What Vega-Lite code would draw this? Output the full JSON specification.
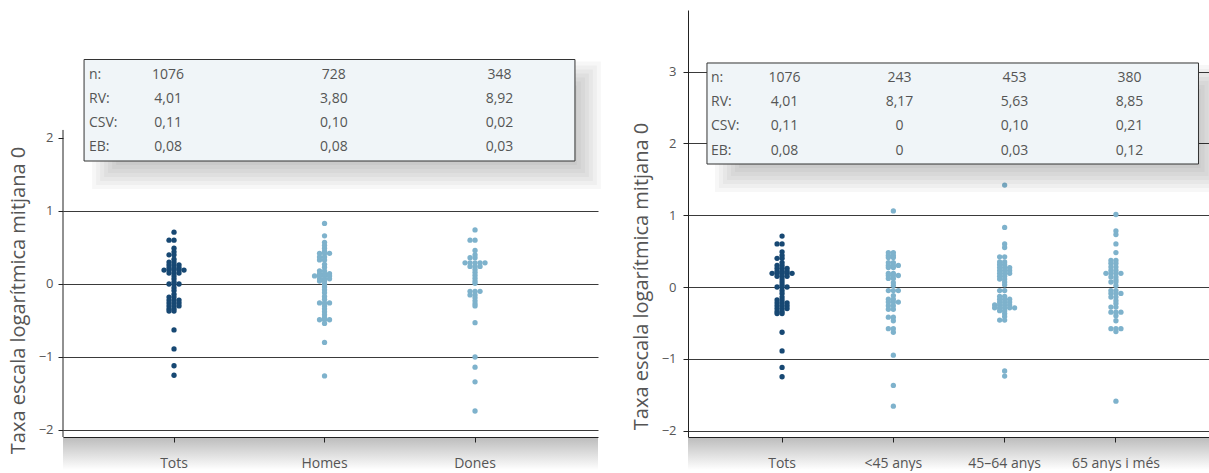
{
  "$schema": "https://vega.github.io/schema/vega-lite/v6.json",
  "background": "white",
  "padding": {"left": 8, "top": 10, "right": 0, "bottom": 0},
  "config": {
    "view": {"stroke": null},
    "font": "Open Sans",
    "axis": {"labelFont": "Open Sans", "titleFont": "Open Sans", "labelColor": "#555555", "titleColor": "#555555", "domainColor": "#222222", "tickColor": "#222222", "gridColor": "#3a3a3a", "titleFontWeight": "normal"}
  },
  "datasets": {
    "pts": [
      {"cat":"Tots","v":0.71},{"cat":"Tots","v":0.60},{"cat":"Tots","v":0.60},{"cat":"Tots","v":0.49},{"cat":"Tots","v":0.44},{"cat":"Tots","v":0.40},{"cat":"Tots","v":0.40},{"cat":"Tots","v":0.34},{"cat":"Tots","v":0.30},{"cat":"Tots","v":0.30},{"cat":"Tots","v":0.26},{"cat":"Tots","v":0.26},{"cat":"Tots","v":0.26},{"cat":"Tots","v":0.22},{"cat":"Tots","v":0.22},{"cat":"Tots","v":0.22},{"cat":"Tots","v":0.19},{"cat":"Tots","v":0.19},{"cat":"Tots","v":0.19},{"cat":"Tots","v":0.19},{"cat":"Tots","v":0.19},{"cat":"Tots","v":0.15},{"cat":"Tots","v":0.15},{"cat":"Tots","v":0.15},{"cat":"Tots","v":0.11},{"cat":"Tots","v":0.07},{"cat":"Tots","v":0.03},{"cat":"Tots","v":0.0},{"cat":"Tots","v":0.0},{"cat":"Tots","v":0.0},{"cat":"Tots","v":-0.05},{"cat":"Tots","v":-0.09},{"cat":"Tots","v":-0.14},{"cat":"Tots","v":-0.18},{"cat":"Tots","v":-0.18},{"cat":"Tots","v":-0.22},{"cat":"Tots","v":-0.22},{"cat":"Tots","v":-0.22},{"cat":"Tots","v":-0.26},{"cat":"Tots","v":-0.26},{"cat":"Tots","v":-0.26},{"cat":"Tots","v":-0.30},{"cat":"Tots","v":-0.30},{"cat":"Tots","v":-0.30},{"cat":"Tots","v":-0.34},{"cat":"Tots","v":-0.34},{"cat":"Tots","v":-0.37},{"cat":"Tots","v":-0.37},{"cat":"Tots","v":-0.63},{"cat":"Tots","v":-0.89},{"cat":"Tots","v":-1.12},{"cat":"Tots","v":-1.25},
      {"cat":"Homes","v":0.83},{"cat":"Homes","v":0.66},{"cat":"Homes","v":0.57},{"cat":"Homes","v":0.53},{"cat":"Homes","v":0.49},{"cat":"Homes","v":0.45},{"cat":"Homes","v":0.42},{"cat":"Homes","v":0.42},{"cat":"Homes","v":0.42},{"cat":"Homes","v":0.37},{"cat":"Homes","v":0.37},{"cat":"Homes","v":0.33},{"cat":"Homes","v":0.33},{"cat":"Homes","v":0.27},{"cat":"Homes","v":0.23},{"cat":"Homes","v":0.18},{"cat":"Homes","v":0.18},{"cat":"Homes","v":0.14},{"cat":"Homes","v":0.14},{"cat":"Homes","v":0.14},{"cat":"Homes","v":0.11},{"cat":"Homes","v":0.11},{"cat":"Homes","v":0.11},{"cat":"Homes","v":0.11},{"cat":"Homes","v":0.07},{"cat":"Homes","v":0.07},{"cat":"Homes","v":0.07},{"cat":"Homes","v":0.04},{"cat":"Homes","v":0.04},{"cat":"Homes","v":0.0},{"cat":"Homes","v":-0.04},{"cat":"Homes","v":-0.08},{"cat":"Homes","v":-0.12},{"cat":"Homes","v":-0.17},{"cat":"Homes","v":-0.21},{"cat":"Homes","v":-0.26},{"cat":"Homes","v":-0.26},{"cat":"Homes","v":-0.26},{"cat":"Homes","v":-0.30},{"cat":"Homes","v":-0.34},{"cat":"Homes","v":-0.38},{"cat":"Homes","v":-0.42},{"cat":"Homes","v":-0.46},{"cat":"Homes","v":-0.49},{"cat":"Homes","v":-0.49},{"cat":"Homes","v":-0.49},{"cat":"Homes","v":-0.54},{"cat":"Homes","v":-0.80},{"cat":"Homes","v":-1.26},
      {"cat":"Dones","v":0.74},{"cat":"Dones","v":0.60},{"cat":"Dones","v":0.60},{"cat":"Dones","v":0.46},{"cat":"Dones","v":0.40},{"cat":"Dones","v":0.36},{"cat":"Dones","v":0.36},{"cat":"Dones","v":0.29},{"cat":"Dones","v":0.29},{"cat":"Dones","v":0.29},{"cat":"Dones","v":0.29},{"cat":"Dones","v":0.29},{"cat":"Dones","v":0.24},{"cat":"Dones","v":0.24},{"cat":"Dones","v":0.24},{"cat":"Dones","v":0.20},{"cat":"Dones","v":0.16},{"cat":"Dones","v":0.12},{"cat":"Dones","v":0.08},{"cat":"Dones","v":0.04},{"cat":"Dones","v":0.01},{"cat":"Dones","v":-0.10},{"cat":"Dones","v":-0.10},{"cat":"Dones","v":-0.10},{"cat":"Dones","v":-0.15},{"cat":"Dones","v":-0.15},{"cat":"Dones","v":-0.19},{"cat":"Dones","v":-0.23},{"cat":"Dones","v":-0.27},{"cat":"Dones","v":-0.30},{"cat":"Dones","v":-0.53},{"cat":"Dones","v":-1.00},{"cat":"Dones","v":-1.14},{"cat":"Dones","v":-1.34},{"cat":"Dones","v":-1.74},
      {"cat":"<45 anys","v":1.06},{"cat":"<45 anys","v":0.48},{"cat":"<45 anys","v":0.48},{"cat":"<45 anys","v":0.44},{"cat":"<45 anys","v":0.44},{"cat":"<45 anys","v":0.41},{"cat":"<45 anys","v":0.41},{"cat":"<45 anys","v":0.34},{"cat":"<45 anys","v":0.34},{"cat":"<45 anys","v":0.30},{"cat":"<45 anys","v":0.30},{"cat":"<45 anys","v":0.30},{"cat":"<45 anys","v":0.27},{"cat":"<45 anys","v":0.27},{"cat":"<45 anys","v":0.19},{"cat":"<45 anys","v":0.19},{"cat":"<45 anys","v":0.16},{"cat":"<45 anys","v":0.16},{"cat":"<45 anys","v":0.16},{"cat":"<45 anys","v":0.12},{"cat":"<45 anys","v":0.12},{"cat":"<45 anys","v":0.06},{"cat":"<45 anys","v":0.02},{"cat":"<45 anys","v":-0.05},{"cat":"<45 anys","v":-0.05},{"cat":"<45 anys","v":-0.05},{"cat":"<45 anys","v":-0.12},{"cat":"<45 anys","v":-0.17},{"cat":"<45 anys","v":-0.17},{"cat":"<45 anys","v":-0.21},{"cat":"<45 anys","v":-0.21},{"cat":"<45 anys","v":-0.21},{"cat":"<45 anys","v":-0.26},{"cat":"<45 anys","v":-0.26},{"cat":"<45 anys","v":-0.31},{"cat":"<45 anys","v":-0.31},{"cat":"<45 anys","v":-0.42},{"cat":"<45 anys","v":-0.42},{"cat":"<45 anys","v":-0.47},{"cat":"<45 anys","v":-0.58},{"cat":"<45 anys","v":-0.58},{"cat":"<45 anys","v":-0.63},{"cat":"<45 anys","v":-0.95},{"cat":"<45 anys","v":-1.37},{"cat":"<45 anys","v":-1.66},
      {"cat":"45–64 anys","v":1.42},{"cat":"45–64 anys","v":0.83},{"cat":"45–64 anys","v":0.60},{"cat":"45–64 anys","v":0.55},{"cat":"45–64 anys","v":0.42},{"cat":"45–64 anys","v":0.42},{"cat":"45–64 anys","v":0.35},{"cat":"45–64 anys","v":0.35},{"cat":"45–64 anys","v":0.31},{"cat":"45–64 anys","v":0.31},{"cat":"45–64 anys","v":0.27},{"cat":"45–64 anys","v":0.27},{"cat":"45–64 anys","v":0.27},{"cat":"45–64 anys","v":0.23},{"cat":"45–64 anys","v":0.23},{"cat":"45–64 anys","v":0.23},{"cat":"45–64 anys","v":0.19},{"cat":"45–64 anys","v":0.19},{"cat":"45–64 anys","v":0.19},{"cat":"45–64 anys","v":0.15},{"cat":"45–64 anys","v":0.15},{"cat":"45–64 anys","v":0.11},{"cat":"45–64 anys","v":0.11},{"cat":"45–64 anys","v":0.07},{"cat":"45–64 anys","v":0.03},{"cat":"45–64 anys","v":-0.05},{"cat":"45–64 anys","v":-0.05},{"cat":"45–64 anys","v":-0.13},{"cat":"45–64 anys","v":-0.13},{"cat":"45–64 anys","v":-0.17},{"cat":"45–64 anys","v":-0.17},{"cat":"45–64 anys","v":-0.17},{"cat":"45–64 anys","v":-0.21},{"cat":"45–64 anys","v":-0.21},{"cat":"45–64 anys","v":-0.21},{"cat":"45–64 anys","v":-0.25},{"cat":"45–64 anys","v":-0.25},{"cat":"45–64 anys","v":-0.25},{"cat":"45–64 anys","v":-0.25},{"cat":"45–64 anys","v":-0.29},{"cat":"45–64 anys","v":-0.29},{"cat":"45–64 anys","v":-0.29},{"cat":"45–64 anys","v":-0.29},{"cat":"45–64 anys","v":-0.29},{"cat":"45–64 anys","v":-0.33},{"cat":"45–64 anys","v":-0.33},{"cat":"45–64 anys","v":-0.37},{"cat":"45–64 anys","v":-0.41},{"cat":"45–64 anys","v":-0.46},{"cat":"45–64 anys","v":-0.46},{"cat":"45–64 anys","v":-1.17},{"cat":"45–64 anys","v":-1.24},
      {"cat":"65 anys i més","v":1.01},{"cat":"65 anys i més","v":0.78},{"cat":"65 anys i més","v":0.73},{"cat":"65 anys i més","v":0.60},{"cat":"65 anys i més","v":0.48},{"cat":"65 anys i més","v":0.37},{"cat":"65 anys i més","v":0.37},{"cat":"65 anys i més","v":0.33},{"cat":"65 anys i més","v":0.33},{"cat":"65 anys i més","v":0.28},{"cat":"65 anys i més","v":0.28},{"cat":"65 anys i més","v":0.23},{"cat":"65 anys i més","v":0.23},{"cat":"65 anys i més","v":0.19},{"cat":"65 anys i més","v":0.19},{"cat":"65 anys i més","v":0.19},{"cat":"65 anys i més","v":0.19},{"cat":"65 anys i més","v":0.14},{"cat":"65 anys i més","v":0.14},{"cat":"65 anys i més","v":0.10},{"cat":"65 anys i més","v":0.07},{"cat":"65 anys i més","v":0.07},{"cat":"65 anys i més","v":0.02},{"cat":"65 anys i més","v":-0.05},{"cat":"65 anys i més","v":-0.05},{"cat":"65 anys i més","v":-0.09},{"cat":"65 anys i més","v":-0.09},{"cat":"65 anys i més","v":-0.09},{"cat":"65 anys i més","v":-0.14},{"cat":"65 anys i més","v":-0.14},{"cat":"65 anys i més","v":-0.19},{"cat":"65 anys i més","v":-0.23},{"cat":"65 anys i més","v":-0.28},{"cat":"65 anys i més","v":-0.28},{"cat":"65 anys i més","v":-0.35},{"cat":"65 anys i més","v":-0.35},{"cat":"65 anys i més","v":-0.35},{"cat":"65 anys i més","v":-0.40},{"cat":"65 anys i més","v":-0.47},{"cat":"65 anys i més","v":-0.58},{"cat":"65 anys i més","v":-0.58},{"cat":"65 anys i més","v":-0.58},{"cat":"65 anys i més","v":-0.62},{"cat":"65 anys i més","v":-1.59}
    ],
    "tabL": [
      {"stat":"n:","ri":0,"col":1,"txt":"1076"},{"stat":"n:","ri":0,"col":2,"txt":"728"},{"stat":"n:","ri":0,"col":3,"txt":"348"},
      {"stat":"RV:","ri":1,"col":1,"txt":"4,01"},{"stat":"RV:","ri":1,"col":2,"txt":"3,80"},{"stat":"RV:","ri":1,"col":3,"txt":"8,92"},
      {"stat":"CSV:","ri":2,"col":1,"txt":"0,11"},{"stat":"CSV:","ri":2,"col":2,"txt":"0,10"},{"stat":"CSV:","ri":2,"col":3,"txt":"0,02"},
      {"stat":"EB:","ri":3,"col":1,"txt":"0,08"},{"stat":"EB:","ri":3,"col":2,"txt":"0,08"},{"stat":"EB:","ri":3,"col":3,"txt":"0,03"}
    ],
    "tabR": [
      {"stat":"n:","ri":0,"col":1,"txt":"1076"},{"stat":"n:","ri":0,"col":2,"txt":"243"},{"stat":"n:","ri":0,"col":3,"txt":"453"},{"stat":"n:","ri":0,"col":4,"txt":"380"},
      {"stat":"RV:","ri":1,"col":1,"txt":"4,01"},{"stat":"RV:","ri":1,"col":2,"txt":"8,17"},{"stat":"RV:","ri":1,"col":3,"txt":"5,63"},{"stat":"RV:","ri":1,"col":4,"txt":"8,85"},
      {"stat":"CSV:","ri":2,"col":1,"txt":"0,11"},{"stat":"CSV:","ri":2,"col":2,"txt":"0"},{"stat":"CSV:","ri":2,"col":3,"txt":"0,10"},{"stat":"CSV:","ri":2,"col":4,"txt":"0,21"},
      {"stat":"EB:","ri":3,"col":1,"txt":"0,08"},{"stat":"EB:","ri":3,"col":2,"txt":"0"},{"stat":"EB:","ri":3,"col":3,"txt":"0,03"},{"stat":"EB:","ri":3,"col":4,"txt":"0,12"}
    ]
  },
  "bounds": "flush",
  "spacing": 90,
  "resolve": {"scale": {"xOffset": "independent"}},
  "hconcat": [
    {
      "width": 535,
      "height": 427,
      "resolve": {"scale": {"x": "independent", "y": "independent"}},
      "layer": [
        {
          "data": {"name": "pts"},
          "transform": [
            {"filter": {"field": "cat", "oneOf": ["Tots", "Homes", "Dones"]}},
            {"window": [{"op": "row_number", "as": "k"}], "groupby": ["cat", "v"]}
          ],
          "mark": {"type": "circle", "size": 28, "opacity": 1},
          "encoding": {
            "x": {"field": "cat", "type": "nominal", "scale": {"domain": ["Tots", "Homes", "Dones"], "paddingInner": 0.7674, "paddingOuter": 0.661, "align": 0.47},
                  "axis": {"title": null, "labelAngle": 0, "labelFontSize": 14, "labelPadding": 14, "tickSize": 5, "zindex": 1, "grid": false}},
            "xOffset": {"field": "k", "type": "ordinal", "scale": {"domain": [6, 4, 2, 1, 3, 5, 7]}},
            "y": {"field": "v", "type": "quantitative", "scale": {"domain": [-2.096, 3.753]},
                  "axis": {"title": "Taxa escala logarítmica mitjana 0", "values": [-2, -1, 0, 1, 2], "domain": false, "grid": true,
                           "gridOpacity": {"condition": {"test": "datum.value >= 2", "value": 0}, "value": 1},
                           "tickSize": 5, "labelFontSize": 13, "labelPadding": 5, "titleFontSize": 20,
                           "titleX": -45, "titleY": 290, "titleAngle": 270, "titleBaseline": "middle", "titleAlign": "center", "zindex": 0}},
            "color": {"field": "cat", "type": "nominal", "scale": {"domain": ["Tots", "Homes", "Dones", "<45 anys", "45–64 anys", "65 anys i més"], "range": ["#174873", "#7eb2cc", "#7eb2cc", "#7eb2cc", "#7eb2cc", "#7eb2cc"]}, "legend": null}
          }
        },
        {
          "data": {"values": [{}]},
          "mark": {"type": "rule", "color": "#222222", "strokeWidth": 1},
          "encoding": {
            "x": {"datum": 0, "type": "quantitative", "scale": {"domain": [0, 1]}, "axis": null},
            "y": {"datum": -2.096, "type": "quantitative", "scale": {"domain": [-2.096, 3.753]}, "axis": null},
            "y2": {"datum": 2.11}
          }
        },
        {
          "data": {"values": [{}]},
          "mark": {"type": "rect", "fill": {"gradient": "linear", "x1": 0, "y1": 0, "x2": 0, "y2": 1, "stops": [{"offset": 0, "color": "#bcbcbc"}, {"offset": 1, "color": "#ffffff"}]}},
          "encoding": {
            "y": {"datum": -2.1, "type": "quantitative", "scale": {"domain": [-2.096, 3.753]}, "axis": null},
            "y2": {"datum": -2.548}
          }
        },
        {
          "data": {"name": "tabL"},
          "layer": [
            {"data": {"values": [{}]}, "mark": {"type": "rect", "fill": "#000000", "fillOpacity": 0.03},
             "encoding": {"x": {"datum": 0.5412, "type": "quantitative", "scale": {"domain": [0.366, 3.594]}, "axis": null}, "x2": {"datum": 3.6119},
                          "y": {"datum": -0.5706, "type": "quantitative", "scale": {"domain": [-2.717, 15.075], "reverse": true}, "axis": null}, "y2": {"datum": 4.7416}}},
            {"data": {"values": [{}]}, "mark": {"type": "rect", "fill": "#000000", "fillOpacity": 0.03},
             "encoding": {"x": {"datum": 0.5654, "type": "quantitative", "scale": {"domain": [0.366, 3.594]}, "axis": null}, "x2": {"datum": 3.5877},
                          "y": {"datum": -0.404, "type": "quantitative", "scale": {"domain": [-2.717, 15.075], "reverse": true}, "axis": null}, "y2": {"datum": 4.575}}},
            {"data": {"values": [{}]}, "mark": {"type": "rect", "fill": "#000000", "fillOpacity": 0.03},
             "encoding": {"x": {"datum": 0.5895, "type": "quantitative", "scale": {"domain": [0.366, 3.594]}, "axis": null}, "x2": {"datum": 3.5636},
                          "y": {"datum": -0.2373, "type": "quantitative", "scale": {"domain": [-2.717, 15.075], "reverse": true}, "axis": null}, "y2": {"datum": 4.4083}}},
            {"data": {"values": [{}]}, "mark": {"type": "rect", "fill": "#000000", "fillOpacity": 0.03},
             "encoding": {"x": {"datum": 0.6136, "type": "quantitative", "scale": {"domain": [0.366, 3.594]}, "axis": null}, "x2": {"datum": 3.5395},
                          "y": {"datum": -0.0706, "type": "quantitative", "scale": {"domain": [-2.717, 15.075], "reverse": true}, "axis": null}, "y2": {"datum": 4.2416}}},
            {"data": {"values": [{}]}, "mark": {"type": "rect", "fill": "#000000", "fillOpacity": 0.03},
             "encoding": {"x": {"datum": 0.6378, "type": "quantitative", "scale": {"domain": [0.366, 3.594]}, "axis": null}, "x2": {"datum": 3.5153},
                          "y": {"datum": 0.096, "type": "quantitative", "scale": {"domain": [-2.717, 15.075], "reverse": true}, "axis": null}, "y2": {"datum": 4.075}}},
            {"data": {"values": [{}]}, "mark": {"type": "rect", "fill": "#000000", "fillOpacity": 0.03},
             "encoding": {"x": {"datum": 0.6619, "type": "quantitative", "scale": {"domain": [0.366, 3.594]}, "axis": null}, "x2": {"datum": 3.4912},
                          "y": {"datum": 0.2627, "type": "quantitative", "scale": {"domain": [-2.717, 15.075], "reverse": true}, "axis": null}, "y2": {"datum": 3.9083}}},
            {"data": {"values": [{}]}, "mark": {"type": "rect", "fill": "#000000", "fillOpacity": 0.03},
             "encoding": {"x": {"datum": 0.686, "type": "quantitative", "scale": {"domain": [0.366, 3.594]}, "axis": null}, "x2": {"datum": 3.4671},
                          "y": {"datum": 0.4294, "type": "quantitative", "scale": {"domain": [-2.717, 15.075], "reverse": true}, "axis": null}, "y2": {"datum": 3.7416}}},
            {"data": {"values": [{}]}, "mark": {"type": "rect", "fill": "#000000", "fillOpacity": 0.03},
             "encoding": {"x": {"datum": 0.7102, "type": "quantitative", "scale": {"domain": [0.366, 3.594]}, "axis": null}, "x2": {"datum": 3.4429},
                          "y": {"datum": 0.596, "type": "quantitative", "scale": {"domain": [-2.717, 15.075], "reverse": true}, "axis": null}, "y2": {"datum": 3.575}}},
            {
              "data": {"values": [{}]},
              "mark": {"type": "rect", "fill": "#f0f5f8", "stroke": "#333333", "strokeWidth": 1},
              "encoding": {
                "x": {"datum": 0.493, "type": "quantitative", "scale": {"domain": [0.366, 3.594]}, "axis": null},
                "x2": {"datum": 3.455},
                "y": {"datum": -0.654, "type": "quantitative", "scale": {"domain": [-2.717, 15.075], "reverse": true}, "axis": null},
                "y2": {"datum": 3.575}
              }
            },
            {
              "transform": [{"filter": "datum.col == 1"}],
              "mark": {"type": "text", "align": "left", "baseline": "middle", "fontSize": 14, "color": "#555555"},
              "encoding": {
                "x": {"datum": 0.523, "type": "quantitative", "scale": {"domain": [0.366, 3.594]}, "axis": null},
                "y": {"field": "ri", "type": "quantitative", "scale": {"domain": [-2.717, 15.075], "reverse": true}, "axis": null},
                "text": {"field": "stat"}
              }
            },
            {
              "mark": {"type": "text", "align": "center", "baseline": "middle", "fontSize": 14, "color": "#555555"},
              "encoding": {
                "x": {"field": "col", "type": "quantitative", "scale": {"domain": [0.366, 3.594]}, "axis": null},
                "y": {"field": "ri", "type": "quantitative", "scale": {"domain": [-2.717, 15.075], "reverse": true}, "axis": null},
                "text": {"field": "txt"}
              }
            }
          ]
        }
      ]
    },
    {
      "width": 522,
      "height": 427,
      "resolve": {"scale": {"x": "independent", "y": "independent"}},
      "layer": [
        {
          "data": {"name": "pts"},
          "transform": [
            {"filter": {"field": "cat", "oneOf": ["Tots", "<45 anys", "45–64 anys", "65 anys i més"]}},
            {"window": [{"op": "row_number", "as": "k"}], "groupby": ["cat", "v"]}
          ],
          "mark": {"type": "circle", "size": 28, "opacity": 1},
          "encoding": {
            "x": {"field": "cat", "type": "nominal", "scale": {"domain": ["Tots", "<45 anys", "45–64 anys", "65 anys i més"], "paddingInner": 0.6855, "paddingOuter": 0.688, "align": 0.5},
                  "axis": {"title": null, "labelAngle": 0, "labelFontSize": 14, "labelPadding": 14, "tickSize": 5, "zindex": 1, "grid": false}},
            "xOffset": {"field": "k", "type": "ordinal", "scale": {"domain": [6, 4, 2, 1, 3, 5, 7]}},
            "y": {"field": "v", "type": "quantitative", "scale": {"domain": [-2.089, 3.858]},
                  "axis": {"title": "Taxa escala logarítmica mitjana 0", "values": [-2, -1, 0, 1, 2, 3], "domain": true, "grid": true,
                           "tickSize": 5, "labelFontSize": 13, "labelPadding": 7, "titleFontSize": 20,
                           "titleX": -47, "titleY": 266, "titleAngle": 270, "titleBaseline": "middle", "titleAlign": "center", "zindex": 0}},
            "color": {"field": "cat", "type": "nominal", "scale": {"domain": ["Tots", "Homes", "Dones", "<45 anys", "45–64 anys", "65 anys i més"], "range": ["#174873", "#7eb2cc", "#7eb2cc", "#7eb2cc", "#7eb2cc", "#7eb2cc"]}, "legend": null}
          }
        },
        {
          "data": {"values": [{}]},
          "mark": {"type": "rect", "fill": {"gradient": "linear", "x1": 0, "y1": 0, "x2": 0, "y2": 1, "stops": [{"offset": 0, "color": "#bcbcbc"}, {"offset": 1, "color": "#ffffff"}]}},
          "encoding": {
            "y": {"datum": -2.093, "type": "quantitative", "scale": {"domain": [-2.089, 3.858]}, "axis": null},
            "y2": {"datum": -2.549}
          }
        },
        {
          "data": {"name": "tabR"},
          "layer": [
            {"data": {"values": [{}]}, "mark": {"type": "rect", "fill": "#000000", "fillOpacity": 0.03},
             "encoding": {"x": {"datum": 0.3956, "type": "quantitative", "scale": {"domain": [0.161, 4.7]}, "axis": null}, "x2": {"datum": 4.8261},
                          "y": {"datum": -0.5373, "type": "quantitative", "scale": {"domain": [-2.81, 14.835], "reverse": true}, "axis": null}, "y2": {"datum": 4.711}}},
            {"data": {"values": [{}]}, "mark": {"type": "rect", "fill": "#000000", "fillOpacity": 0.03},
             "encoding": {"x": {"datum": 0.4303, "type": "quantitative", "scale": {"domain": [0.161, 4.7]}, "axis": null}, "x2": {"datum": 4.7914},
                          "y": {"datum": -0.372, "type": "quantitative", "scale": {"domain": [-2.81, 14.835], "reverse": true}, "axis": null}, "y2": {"datum": 4.5457}}},
            {"data": {"values": [{}]}, "mark": {"type": "rect", "fill": "#000000", "fillOpacity": 0.03},
             "encoding": {"x": {"datum": 0.4651, "type": "quantitative", "scale": {"domain": [0.161, 4.7]}, "axis": null}, "x2": {"datum": 4.7566},
                          "y": {"datum": -0.2067, "type": "quantitative", "scale": {"domain": [-2.81, 14.835], "reverse": true}, "axis": null}, "y2": {"datum": 4.3804}}},
            {"data": {"values": [{}]}, "mark": {"type": "rect", "fill": "#000000", "fillOpacity": 0.03},
             "encoding": {"x": {"datum": 0.4999, "type": "quantitative", "scale": {"domain": [0.161, 4.7]}, "axis": null}, "x2": {"datum": 4.7218},
                          "y": {"datum": -0.0414, "type": "quantitative", "scale": {"domain": [-2.81, 14.835], "reverse": true}, "axis": null}, "y2": {"datum": 4.2151}}},
            {"data": {"values": [{}]}, "mark": {"type": "rect", "fill": "#000000", "fillOpacity": 0.03},
             "encoding": {"x": {"datum": 0.5347, "type": "quantitative", "scale": {"domain": [0.161, 4.7]}, "axis": null}, "x2": {"datum": 4.687},
                          "y": {"datum": 0.1238, "type": "quantitative", "scale": {"domain": [-2.81, 14.835], "reverse": true}, "axis": null}, "y2": {"datum": 4.0499}}},
            {"data": {"values": [{}]}, "mark": {"type": "rect", "fill": "#000000", "fillOpacity": 0.03},
             "encoding": {"x": {"datum": 0.5695, "type": "quantitative", "scale": {"domain": [0.161, 4.7]}, "axis": null}, "x2": {"datum": 4.6522},
                          "y": {"datum": 0.2891, "type": "quantitative", "scale": {"domain": [-2.81, 14.835], "reverse": true}, "axis": null}, "y2": {"datum": 3.8846}}},
            {"data": {"values": [{}]}, "mark": {"type": "rect", "fill": "#000000", "fillOpacity": 0.03},
             "encoding": {"x": {"datum": 0.6043, "type": "quantitative", "scale": {"domain": [0.161, 4.7]}, "axis": null}, "x2": {"datum": 4.6174},
                          "y": {"datum": 0.4544, "type": "quantitative", "scale": {"domain": [-2.81, 14.835], "reverse": true}, "axis": null}, "y2": {"datum": 3.7193}}},
            {"data": {"values": [{}]}, "mark": {"type": "rect", "fill": "#000000", "fillOpacity": 0.03},
             "encoding": {"x": {"datum": 0.639, "type": "quantitative", "scale": {"domain": [0.161, 4.7]}, "axis": null}, "x2": {"datum": 4.5827},
                          "y": {"datum": 0.6197, "type": "quantitative", "scale": {"domain": [-2.81, 14.835], "reverse": true}, "axis": null}, "y2": {"datum": 3.554}}},
            {
              "data": {"values": [{}]},
              "mark": {"type": "rect", "fill": "#f0f5f8", "stroke": "#333333", "strokeWidth": 1},
              "encoding": {
                "x": {"datum": 0.326, "type": "quantitative", "scale": {"domain": [0.161, 4.7]}, "axis": null},
                "x2": {"datum": 4.6},
                "y": {"datum": -0.62, "type": "quantitative", "scale": {"domain": [-2.81, 14.835], "reverse": true}, "axis": null},
                "y2": {"datum": 3.554}
              }
            },
            {
              "transform": [{"filter": "datum.col == 1"}],
              "mark": {"type": "text", "align": "left", "baseline": "middle", "fontSize": 14, "color": "#555555"},
              "encoding": {
                "x": {"datum": 0.361, "type": "quantitative", "scale": {"domain": [0.161, 4.7]}, "axis": null},
                "y": {"field": "ri", "type": "quantitative", "scale": {"domain": [-2.81, 14.835], "reverse": true}, "axis": null},
                "text": {"field": "stat"}
              }
            },
            {
              "mark": {"type": "text", "align": "center", "baseline": "middle", "fontSize": 14, "color": "#555555"},
              "encoding": {
                "x": {"field": "col", "type": "quantitative", "scale": {"domain": [0.161, 4.7]}, "axis": null},
                "y": {"field": "ri", "type": "quantitative", "scale": {"domain": [-2.81, 14.835], "reverse": true}, "axis": null},
                "text": {"field": "txt"}
              }
            }
          ]
        }
      ]
    }
  ]
}
